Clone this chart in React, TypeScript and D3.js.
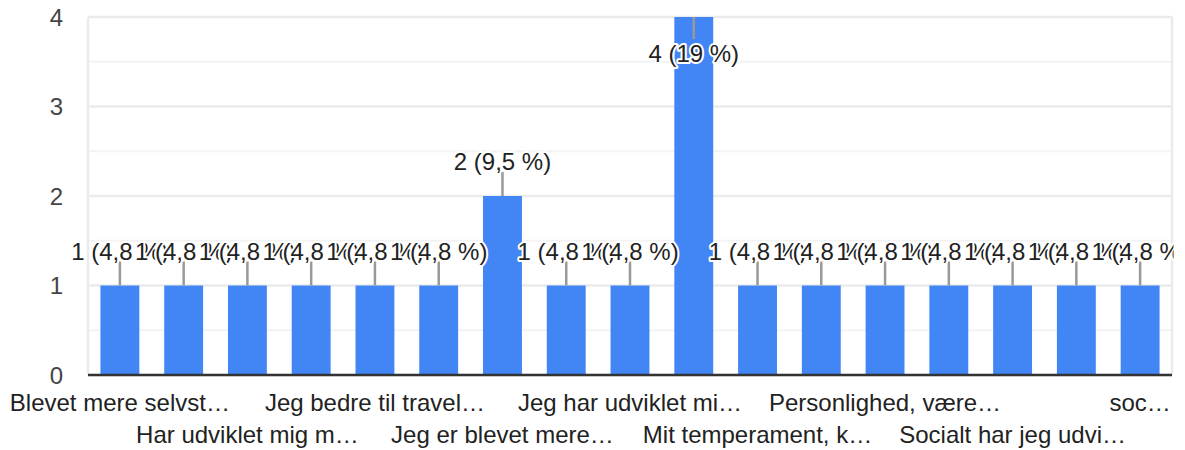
import React from "react";
import * as d3 from "d3";

const categories = [
  "Blevet mere selvst…",
  "Bedre til at samarb…",
  "Har udviklet mig m…",
  "Jeg er bedre til at…",
  "Jeg bedre til travel…",
  "Jeg er blevet bedre…",
  "Jeg er blevet mere…",
  "Jeg har fået mere…",
  "Jeg har udviklet mi…",
  "Mere moden og ans…",
  "Mit temperament, k…",
  "Modenhed og selvti…",
  "Personlighed, være…",
  "Selvtillid og mod…",
  "Socialt har jeg udvi…",
  "Større forståelse…",
  "soc…",
];
const counts = [1, 1, 1, 1, 1, 1, 2, 1, 1, 4, 1, 1, 1, 1, 1, 1, 1];
const yTicks = [0, 1, 2, 3, 4];
const yMinorTicks = [0.5, 1.5, 2.5, 3.5];

const W = 1185;
const H = 450;
const FONT = "'Liberation Sans', Arial, sans-serif";

export default function App() {
  const total = d3.sum(counts);
  const x = d3
    .scaleBand<number>()
    .domain(counts.map((_, i) => i))
    .range([88, 1172])
    .paddingInner(0.39)
    .paddingOuter(0.195);
  const y = d3.scaleLinear().domain([0, 4]).range([375, 17]);
  const pct = (v: number) => d3.format(".2r")((v / total) * 100).replace(".", ",");

  return (
    <div style={{ position: "absolute", left: 0, top: 0 }}>
      <svg width={W} height={H} style={{ display: "block" }} fontFamily={FONT}>
        <defs>
          <clipPath id="annClip">
            <rect x={0} y={0} width={1173.5} height={H} />
          </clipPath>
        </defs>
        <rect x={0} y={0} width={W} height={H} fill="#fff" />
        {/* minor gridlines */}
        {yMinorTicks.map((t) => (
          <line key={"m" + t} x1={88} x2={1172} y1={y(t)} y2={y(t)} stroke="#f3f3f3" strokeWidth={2} />
        ))}
        {/* major gridlines */}
        {yTicks.map((t) => (
          <line key={"g" + t} x1={88} x2={1172} y1={y(t)} y2={y(t)} stroke="#ebebeb" strokeWidth={2.5} />
        ))}
        <line x1={88} x2={88} y1={y(4)} y2={y(0)} stroke="#ebebeb" strokeWidth={2.5} />
        <line x1={1172} x2={1172} y1={y(4)} y2={y(0)} stroke="#ebebeb" strokeWidth={2.5} />
        {/* y tick labels */}
        {yTicks.map((t) => (
          <text key={"t" + t} x={63} y={y(t) + 8.5} textAnchor="end" fontSize={24} fill="#444">
            {t}
          </text>
        ))}
        {/* bars */}
        {counts.map((v, i) => (
          <rect key={"b" + i} x={x(i)} y={y(v)} width={x.bandwidth()} height={y(0) - y(v)} fill="#4285f4" />
        ))}
        {/* axis baseline */}
        <line x1={88} x2={1172} y1={y(0)} y2={y(0)} stroke="#333" strokeWidth={2.7} />
        {/* annotations */}
        <g clipPath="url(#annClip)">
          {counts.map((v, i) => {
            const cx = (x(i) as number) + x.bandwidth() / 2;
            const top = y(v);
            const inside = top - 26 - 17 < y(4);
            const ly2 = inside ? top + 22 : top - 24;
            const ty = inside ? top + 45 : top - 26;
            const label = `${v} (${pct(v)} %)`;
            return (
              <g key={"a" + i}>
                <line x1={cx} x2={cx} y1={top} y2={ly2} stroke="#999" strokeWidth={2.5} />
                <text
                  x={cx}
                  y={ty}
                  textAnchor="middle"
                  fontSize={24}
                  fill="#222"
                  stroke="#fff"
                  strokeWidth={4}
                  strokeLinejoin="round"
                  paintOrder="stroke"
                >
                  {label}
                </text>
              </g>
            );
          })}
        </g>
        {/* x labels, every other, staggered in two rows */}
        {categories.map((c, i) =>
          i % 2 === 0 ? (
            <text
              key={"x" + i}
              x={(x(i) as number) + x.bandwidth() / 2}
              y={i % 4 === 0 ? 411 : 443}
              textAnchor="middle"
              fontSize={24}
              fill="#222"
            >
              {c}
            </text>
          ) : null
        )}
      </svg>
    </div>
  );
}
